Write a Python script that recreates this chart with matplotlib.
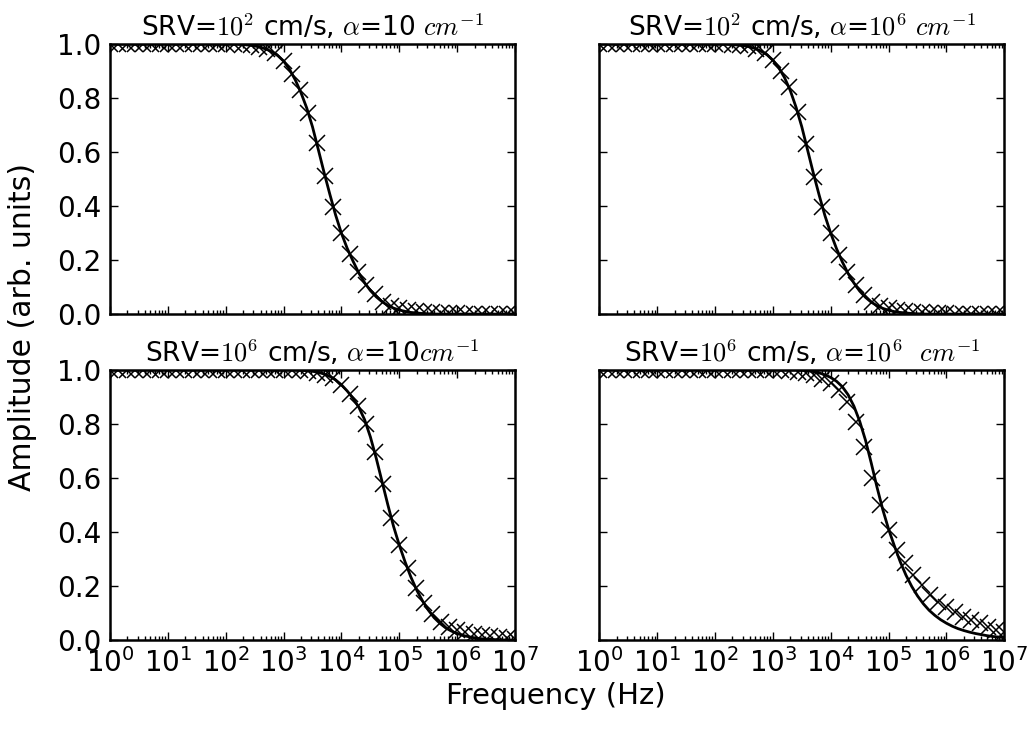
import numpy as np
import matplotlib
matplotlib.use("Agg")
import matplotlib.pyplot as plt
from matplotlib.ticker import LogLocator, NullFormatter, MultipleLocator

plt.rcParams['font.family'] = ['DejaVu Sans']
plt.rcParams['mathtext.fontset'] = 'cm'

# frequency grids (Hz)
freq_markers = np.logspace(0, 7, 50)
freq_line = np.logspace(0, 7, 71)

titles = [r"SRV=$10^2$ cm/s, $\alpha$=10 $cm^{-1}$",
          r"SRV=$10^2$ cm/s, $\alpha$=$10^6$ $cm^{-1}$",
          r"SRV=$10^6$ cm/s, $\alpha$=10$cm^{-1}$",
          r"SRV=$10^6$ cm/s, $\alpha$=$10^6$  $cm^{-1}$"]

# measured amplitudes (markers)
amp_m1 = [1.0, 1.0, 1.0, 1.0, 1.0, 1.0, 1.0, 1.0, 1.0, 1.0,
          1.0, 1.0, 1.0, 1.0, 1.0, 1.0, 0.998, 0.995, 0.99, 0.98,
          0.965, 0.938, 0.89, 0.83, 0.746, 0.632, 0.512, 0.397, 0.299, 0.222,
          0.157, 0.107, 0.074, 0.046, 0.03, 0.021, 0.015, 0.011, 0.008, 0.006,
          0.005, 0.004, 0.003, 0.002, 0.002, 0.001, 0.001, 0.001, 0.0, 0.0]
amp_m2 = [1.0, 1.0, 1.0, 1.0, 1.0, 1.0, 1.0, 1.0, 1.0, 1.0,
          1.0, 1.0, 1.0, 1.0, 1.0, 1.0, 0.998, 0.996, 0.991, 0.982,
          0.967, 0.94, 0.9, 0.84, 0.748, 0.63, 0.509, 0.395, 0.299, 0.219,
          0.157, 0.107, 0.07, 0.046, 0.03, 0.021, 0.015, 0.011, 0.008, 0.006,
          0.005, 0.004, 0.003, 0.002, 0.002, 0.001, 0.001, 0.001, 0.0, 0.0]
amp_m3 = [1.0, 1.0, 1.0, 1.0, 1.0, 1.0, 1.0, 1.0, 1.0, 1.0,
          1.0, 1.0, 1.0, 1.0, 1.0, 1.0, 1.0, 1.0, 1.0, 1.0,
          1.0, 1.0, 1.0, 0.998, 0.995, 0.99, 0.983, 0.97, 0.945, 0.911,
          0.868, 0.80, 0.696, 0.576, 0.453, 0.351, 0.265, 0.191, 0.136, 0.096,
          0.068, 0.049, 0.037, 0.029, 0.022, 0.017, 0.013, 0.01, 0.007, 0.005]
amp_m4 = [1.0, 1.0, 1.0, 1.0, 1.0, 1.0, 1.0, 1.0, 1.0, 1.0,
          1.0, 1.0, 1.0, 1.0, 1.0, 1.0, 1.0, 1.0, 1.0, 1.0,
          1.0, 1.0, 0.999, 0.997, 0.993, 0.988, 0.98, 0.968, 0.95, 0.925,
          0.883, 0.809, 0.716, 0.60, 0.50, 0.407, 0.333, 0.284, 0.241, 0.204,
          0.167, 0.142, 0.123, 0.105, 0.086, 0.074, 0.062, 0.049, 0.037, 0.031]

# model amplitudes (lines)
amp_l1 = [1.0, 1.0, 1.0, 1.0, 1.0, 1.0, 1.0, 1.0, 1.0, 1.0,
          1.0, 1.0, 1.0, 1.0, 1.0, 1.0, 1.0, 1.0, 1.0, 1.0,
          1.0, 1.0, 1.0, 0.998, 0.996, 0.993, 0.988, 0.981, 0.971, 0.957,
          0.937, 0.907, 0.868, 0.82, 0.763, 0.693, 0.609, 0.524, 0.443, 0.366,
          0.299, 0.243, 0.196, 0.152, 0.116, 0.087, 0.064, 0.046, 0.032, 0.022,
          0.015, 0.01, 0.006, 0.004, 0.002, 0.001, 0.0, 0.0, 0.0, 0.0,
          0.0, 0.0, 0.0, 0.0, 0.0, 0.0, 0.0, 0.0, 0.0, 0.0, 0.0]
amp_l2 = [1.0, 1.0, 1.0, 1.0, 1.0, 1.0, 1.0, 1.0, 1.0, 1.0,
          1.0, 1.0, 1.0, 1.0, 1.0, 1.0, 1.0, 1.0, 1.0, 1.0,
          1.0, 1.0, 1.0, 0.998, 0.996, 0.994, 0.989, 0.983, 0.973, 0.96,
          0.94, 0.913, 0.876, 0.828, 0.766, 0.693, 0.607, 0.521, 0.44, 0.364,
          0.299, 0.242, 0.193, 0.15, 0.115, 0.085, 0.062, 0.044, 0.031, 0.021,
          0.014, 0.009, 0.006, 0.004, 0.002, 0.001, 0.0, 0.0, 0.0, 0.0,
          0.0, 0.0, 0.0, 0.0, 0.0, 0.0, 0.0, 0.0, 0.0, 0.0, 0.0]
amp_l3 = [1.0, 1.0, 1.0, 1.0, 1.0, 1.0, 1.0, 1.0, 1.0, 1.0,
          1.0, 1.0, 1.0, 1.0, 1.0, 1.0, 1.0, 1.0, 1.0, 1.0,
          1.0, 1.0, 1.0, 1.0, 1.0, 1.0, 1.0, 1.0, 1.0, 1.0,
          1.0, 1.0, 1.0, 0.999, 0.997, 0.995, 0.991, 0.985, 0.976, 0.963,
          0.945, 0.922, 0.895, 0.862, 0.816, 0.752, 0.674, 0.588, 0.502, 0.421,
          0.351, 0.289, 0.233, 0.185, 0.145, 0.111, 0.083, 0.062, 0.045, 0.033,
          0.024, 0.017, 0.012, 0.008, 0.005, 0.003, 0.002, 0.001, 0.0, 0.0, 0.0]
amp_l4 = [1.0, 1.0, 1.0, 1.0, 1.0, 1.0, 1.0, 1.0, 1.0, 1.0,
          1.0, 1.0, 1.0, 1.0, 1.0, 1.0, 1.0, 1.0, 1.0, 1.0,
          1.0, 1.0, 1.0, 1.0, 1.0, 1.0, 1.0, 1.0, 1.0, 1.0,
          1.0, 1.0, 1.0, 1.0, 1.0, 0.999, 0.997, 0.994, 0.989, 0.982,
          0.972, 0.958, 0.938, 0.908, 0.866, 0.81, 0.74, 0.655, 0.565, 0.482,
          0.41, 0.348, 0.29, 0.24, 0.198, 0.163, 0.134, 0.11, 0.091, 0.075,
          0.062, 0.051, 0.042, 0.035, 0.029, 0.024, 0.02, 0.016, 0.013, 0.011, 0.009]

markers = [amp_m1, amp_m2, amp_m3, amp_m4]
lines = [amp_l1, amp_l2, amp_l3, amp_l4]

fig, axes = plt.subplots(2, 2, figsize=(10.28, 7.30), dpi=100, sharex=True, sharey=True)
fig.subplots_adjust(left=0.107, right=0.977, top=0.9397, bottom=0.1233,
                    wspace=0.208, hspace=0.207)

for i, ax in enumerate(axes.flat):
    ax.plot(freq_markers, markers[i], linestyle='none', marker='x', color='black',
            markersize=12, markeredgewidth=1.1)
    ax.plot(freq_line, lines[i], color='black', linewidth=2.0)
    ax.set_xscale('log')
    ax.set_xlim(1, 1e7)
    ax.set_ylim(0, 1.0)
    ax.set_title(titles[i], fontsize=19, pad=6)
    ax.xaxis.set_major_locator(LogLocator(base=10, numticks=20))
    ax.xaxis.set_minor_locator(LogLocator(base=10, subs=np.arange(2, 10), numticks=100))
    ax.xaxis.set_minor_formatter(NullFormatter())
    ax.yaxis.set_major_locator(MultipleLocator(0.2))
    ax.tick_params(which='both', direction='in', top=True, right=True)
    ax.tick_params(which='major', length=5.5, width=1.0, labelsize=20, pad=6)
    ax.tick_params(which='minor', length=3, width=1.0)
    for sp in ax.spines.values():
        sp.set_linewidth(1.8)

fig.text(0.541, 0.047, "Frequency (Hz)", ha='center', va='center', fontsize=21)
fig.text(0.022, 0.552, "Amplitude (arb. units)", ha='center', va='center',
         rotation=90, fontsize=21.5)

fig.savefig("out.png", dpi=100)
